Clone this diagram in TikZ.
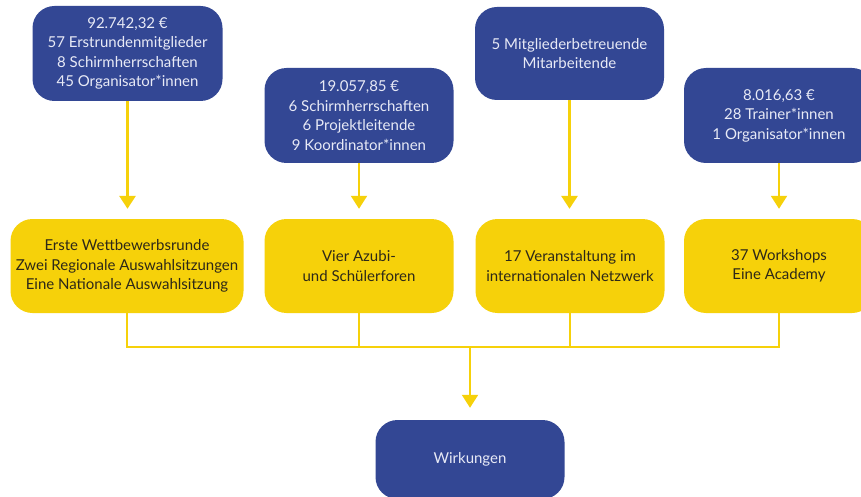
\documentclass[tikz,border=0pt]{standalone}
\usepackage{fontspec}
\setmainfont{Lato}
\usetikzlibrary{arrows.meta}
\definecolor{navy}{RGB}{51,71,148}
\definecolor{sun}{RGB}{246,209,10}
\definecolor{paletext}{RGB}{232,234,246}
\definecolor{darktext}{RGB}{45,40,24}
\tikzset{
  box/.style={rounded corners=22pt, inner sep=0pt, align=center,
    font=\fontsize{15}{19.5}\selectfont, minimum height=94pt},
  bluebox/.style={box, fill=navy, text=paletext},
  yellowbox/.style={box, fill=sun, text=darktext},
  feed/.style={draw=sun, line width=3pt,
    -{Triangle[width=16pt,length=13pt]}, shorten >=10pt},
  thinfeed/.style={feed, line width=2pt},
  link/.style={draw=sun, line width=2pt},
}
\begin{document}
\begin{tikzpicture}[x=1pt,y=-1pt]
\useasboundingbox (0,0) rectangle (861,497);
\clip (0,0) rectangle (861,497);
\fill[white] (0,0) rectangle (861,497);

% resources
\node[bluebox, minimum width=190pt, minimum height=95pt] (ra) at (127.5,53.5)
  {92.742,32 €\\57 Erstrundenmitglieder\\8 Schirmherrschaften\\45 Organisator*innen};
\node[bluebox, minimum width=189pt, minimum height=95pt] (rb) at (359,115.5)
  {19.057,85 €\\6 Schirmherrschaften\\6 Projektleitende\\9 Koordinator*innen};
\node[bluebox, minimum width=189pt, minimum height=93pt] (rc) at (569.5,53.5)
  {5 Mitgliederbetreuende\\Mitarbeitende};
\node[bluebox, minimum width=190pt, minimum height=95pt] (rd) at (779,115.5)
  {8.016,63 €\\28 Trainer*innen\\1 Organisator*innen};

% activities
\node[yellowbox, minimum width=233pt] (aa) at (127,266)
  {Erste Wettbewerbsrunde\\Zwei Regionale Auswahlsitzungen\\Eine Nationale Auswahlsitzung};
\node[yellowbox, minimum width=189pt] (ab) at (359,266)
  {Vier Azubi-\\und Schülerforen};
\node[yellowbox, minimum width=189pt] (ac) at (570,266)
  {17 Veranstaltung im\\internationalen Netzwerk};
\node[yellowbox, minimum width=190pt] (ad) at (779,266)
  {37 Workshops\\Eine Academy};

% outcome
\node[bluebox, minimum width=189pt, minimum height=79pt] (w) at (470,459.5)
  {Wirkungen};

% resource -> activity
\draw[feed] (ra.south) -- (ra.south |- aa.north);
\draw[thinfeed] (rb.south) -- (ab.north);
\draw[feed] (rc.south) -- (rc.south |- ac.north);
\draw[thinfeed] (rd.south) -- (ad.north);

% collecting line
\coordinate (bus) at (470,347);
\draw[link] (aa.south) |- (ad.south |- bus) -- (ad.south);
\draw[link] (ab.south) -- (ab.south |- bus);
\draw[link] (ac.south) -- (ac.south |- bus);
\draw[thinfeed, shorten >=12pt] (bus) -- (w.north);
\end{tikzpicture}
\end{document}
